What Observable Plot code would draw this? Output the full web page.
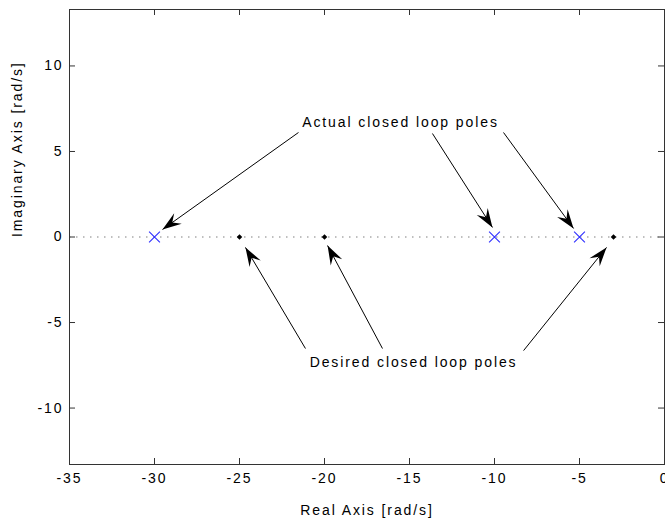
<!DOCTYPE html>
<html><head><meta charset="utf-8">
<script src="https://cdn.jsdelivr.net/npm/d3@7"></script>
<script src="https://cdn.jsdelivr.net/npm/@observablehq/plot@0.6"></script>
<style>body{margin:0;background:#fff}</style>
</head><body><div id="chart"></div>
<script>
// ---- data ----
const xTicks = [-35, -30, -25, -20, -15, -10, -5, 0];
const yTicks = [-10, -5, 0, 5, 10];
const xDomain = [-35, 0];
const yDomain = [-13.3, 13.3];
const actualPoles = [-30, -10, -5];
const desiredPoles = [-25, -20, -3];
const labelText = ["Actual closed loop poles", "Desired closed loop poles"];
const labelX = [-15.53, -14.76];
const labelY = [6.69, -7.34];
const arrowX1 = [-21.53, -13.65, -9.47, -21.12, -16.59, -8.29];
const arrowY1 = [6.11, 6.05, 6.11, -6.52, -6.52, -6.64];
const arrowX2 = [-29.53, -10.12, -5.35, -24.65, -19.82, -3.41];
const arrowY2 = [0.44, 0.56, 0.50, -0.61, -0.50, -0.61];
const xTitle = "Real Axis [rad/s]";
const yTitle = "Imaginary Axis [rad/s]";

// ---- layout ----
const W = 665, H = 521, mL = 69, mR = 1, mT = 9, mB = 57, tick = 6;
const innerW = W - mL - mR, innerH = H - mT - mB;
const frameColor = "#333";

const arrows = arrowX1.map((_, i) => ({x1: arrowX1[i], y1: arrowY1[i], x2: arrowX2[i], y2: arrowY2[i]}));
const labels = labelText.map((t, i) => ({t, x: labelX[i], y: labelY[i]}));

function arrowHead(color, context) {
  const m = d3.create("svg:marker")
    .attr("viewBox", "-22 -10 32 20")
    .attr("markerWidth", 32)
    .attr("markerHeight", 20)
    .attr("markerUnits", "userSpaceOnUse")
    .attr("refX", 0).attr("refY", 0)
    .attr("orient", "auto");
  m.append("path")
    .attr("d", "M0,0L-19,-6.5L-12,0L-19,6.5Z")
    .attr("fill", "#000")
    .attr("stroke", "none");
  return m.node();
}

const fmt = d => `${d}`;

const chart = Plot.plot({
  width: W, height: H,
  marginLeft: mL, marginRight: mR, marginTop: mT, marginBottom: mB,
  x: {domain: xDomain},
  y: {domain: yDomain},
  style: {fontFamily: "'Liberation Sans', Arial, sans-serif", fontSize: "14px", letterSpacing: "1.9px", background: "#fff", color: "#000"},
  marks: [
    Plot.ruleY([0], {stroke: "#808080", strokeDasharray: "1.5,5.5", strokeWidth: 1.2}),
    Plot.axisX({ticks: xTicks, tickSize: 0, tickPadding: 9, tickFormat: fmt, label: null}),
    Plot.axisY({ticks: yTicks, tickSize: 0, tickPadding: 6, tickFormat: fmt, label: null}),
    Plot.ruleX(xTicks, {insetTop: innerH - tick, stroke: frameColor}),
    Plot.ruleX(xTicks, {insetBottom: innerH - tick, stroke: frameColor}),
    Plot.ruleY(yTicks, {insetRight: innerW - tick, stroke: frameColor}),
    Plot.ruleY(yTicks, {insetLeft: innerW - tick, stroke: frameColor}),
    Plot.frame({stroke: frameColor}),
    Plot.dot(desiredPoles, {x: d => d, y: () => 0, symbol: "diamond2", r: 2.5, fill: "#000", stroke: "none"}),
    Plot.dot(actualPoles, {x: d => d, y: () => 0, symbol: "times", r: 5, stroke: "#2f2fff", strokeWidth: 1.1}),
    Plot.link(arrows, {x1: "x1", y1: "y1", x2: "x2", y2: "y2", stroke: "#000", strokeWidth: 1, markerEnd: arrowHead}),
    Plot.text(labels, {x: "x", y: "y", text: "t", fill: "#000"}),
    Plot.text([xTitle], {frameAnchor: "bottom", dy: 46, lineAnchor: "middle", fill: "#000"}),
    Plot.text([yTitle], {frameAnchor: "left", dx: -52, rotate: -90, lineAnchor: "middle", fill: "#000"})
  ]
});
document.getElementById("chart").appendChild(chart);
</script>
</body></html>
